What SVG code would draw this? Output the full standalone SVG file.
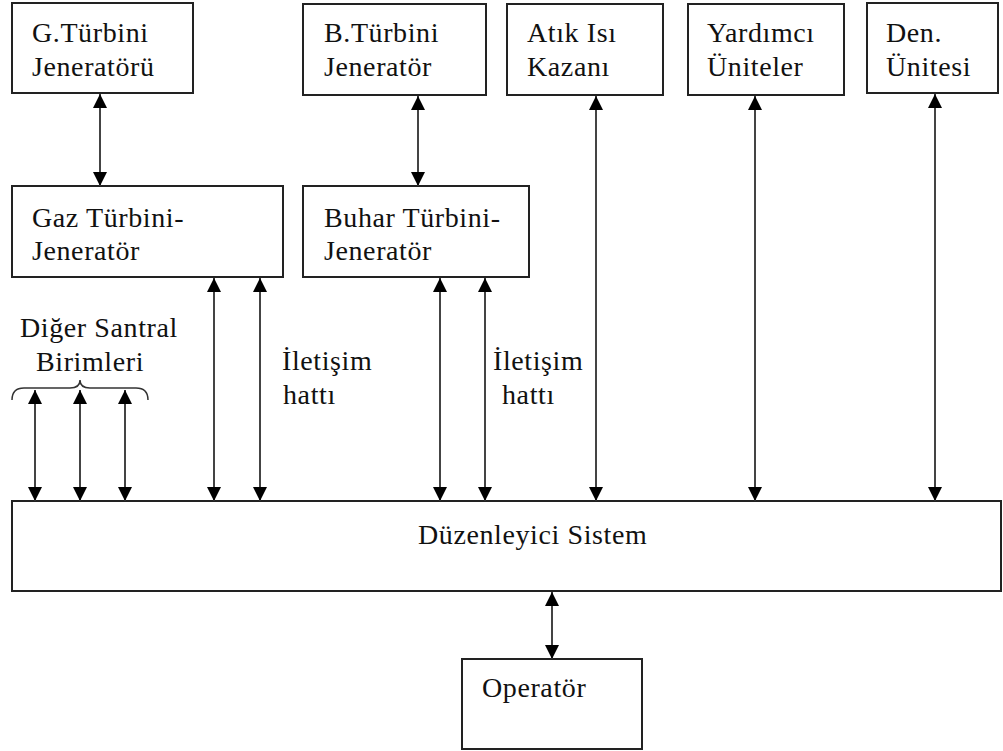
<svg xmlns="http://www.w3.org/2000/svg" width="1003" height="751" viewBox="0 0 1003 751">
  <defs>
    <marker id="head" markerUnits="userSpaceOnUse" markerWidth="14" markerHeight="14" refX="14" refY="7" orient="auto-start-reverse">
      <path d="M0,0 L14,7 L0,14 Z" fill="#000"/>
    </marker>
    <style>
      .box { fill: #fff; stroke: #222; stroke-width: 2; }
      .lbl { font-family: "Liberation Serif", "Times New Roman", serif; font-size: 28px; letter-spacing: 0.6px; fill: #111; }
      .link { stroke: #444; stroke-width: 2; fill: none; marker-start: url(#head); marker-end: url(#head); }
      .brace { stroke: #333; stroke-width: 1.5; fill: none; }
    </style>
  </defs>
  <rect width="1003" height="751" fill="#fff"/>

  <!-- top row -->
  <g id="g-turbini-jeneratoru">
    <rect class="box" x="12" y="3" width="181" height="90"/>
    <text class="lbl" x="32" y="42">G.Türbini</text>
    <text class="lbl" x="32" y="76">Jeneratörü</text>
  </g>
  <g id="b-turbini-jenerator">
    <rect class="box" x="303" y="4" width="183" height="91"/>
    <text class="lbl" x="324" y="42">B.Türbini</text>
    <text class="lbl" x="324" y="76">Jeneratör</text>
  </g>
  <g id="atik-isi-kazani">
    <rect class="box" x="507" y="4" width="156" height="91"/>
    <text class="lbl" x="527" y="42">Atık Isı</text>
    <text class="lbl" x="527" y="76">Kazanı</text>
  </g>
  <g id="yardimci-uniteler">
    <rect class="box" x="688" y="4" width="156" height="91"/>
    <text class="lbl" x="707" y="42">Yardımcı</text>
    <text class="lbl" x="707" y="76">Üniteler</text>
  </g>
  <g id="den-unitesi">
    <rect class="box" x="867" y="3" width="131" height="90"/>
    <text class="lbl" x="886" y="42">Den.</text>
    <text class="lbl" x="886" y="76">Ünitesi</text>
  </g>

  <!-- second row -->
  <g id="gaz-turbini-jenerator">
    <rect class="box" x="12" y="186" width="271" height="91"/>
    <text class="lbl" x="32" y="227">Gaz Türbini-</text>
    <text class="lbl" x="32" y="260">Jeneratör</text>
  </g>
  <g id="buhar-turbini-jenerator">
    <rect class="box" x="303" y="186" width="226" height="91"/>
    <text class="lbl" x="324" y="227">Buhar Türbini-</text>
    <text class="lbl" x="324" y="260">Jeneratör</text>
  </g>

  <!-- other plant units -->
  <g id="diger-santral-birimleri">
    <text class="lbl" x="20" y="337">Diğer Santral</text>
    <text class="lbl" x="36" y="371">Birimleri</text>
    <path class="brace" d="M12,400 Q12,388 24,388 L70,388 Q80,388 80,380 Q80,388 90,388 L136,388 Q148,388 148,400"/>
  </g>

  <g id="iletisim-hatti-1">
    <text class="lbl" x="282" y="370">İletişim</text>
    <text class="lbl" x="283" y="404">hattı</text>
  </g>
  <g id="iletisim-hatti-2">
    <text class="lbl" x="493" y="370">İletişim</text>
    <text class="lbl" x="502" y="404">hattı</text>
  </g>

  <!-- central controller -->
  <g id="duzenleyici-sistem">
    <rect class="box" x="12" y="501" width="989" height="90"/>
    <text class="lbl" x="418" y="544">Düzenleyici Sistem</text>
  </g>

  <g id="operator">
    <rect class="box" x="462" y="659" width="180" height="90"/>
    <text class="lbl" x="482" y="697">Operatör</text>
  </g>

  <!-- connectors -->
  <g id="connectors">
    <line class="link" x1="100" y1="94" x2="100" y2="186"/>
    <line class="link" x1="418" y1="96" x2="418" y2="186"/>
    <line class="link" x1="596" y1="96" x2="596" y2="501"/>
    <line class="link" x1="755" y1="96" x2="755" y2="501"/>
    <line class="link" x1="935" y1="94" x2="935" y2="501"/>
    <line class="link" x1="214" y1="278" x2="214" y2="501"/>
    <line class="link" x1="260" y1="278" x2="260" y2="501"/>
    <line class="link" x1="440" y1="278" x2="440" y2="501"/>
    <line class="link" x1="485" y1="278" x2="485" y2="501"/>
    <line class="link" x1="35" y1="390" x2="35" y2="501"/>
    <line class="link" x1="80" y1="390" x2="80" y2="501"/>
    <line class="link" x1="125" y1="390" x2="125" y2="501"/>
    <line class="link" x1="552" y1="592" x2="552" y2="659"/>
  </g>
</svg>
